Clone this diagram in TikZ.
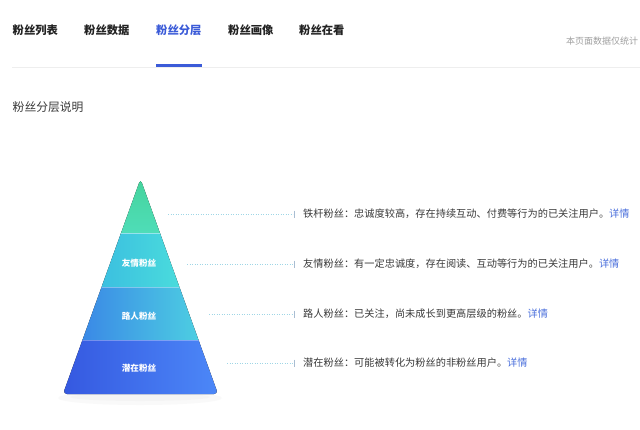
\documentclass[tikz,border=0pt]{standalone}
\usepackage{fontspec}
\newfontfamily\cjk{Noto Sans CJK SC}
\usetikzlibrary{calc}
\definecolor{tabblue}{HTML}{3B5BD8}
\definecolor{tabtext}{HTML}{222222}
\definecolor{desctext}{HTML}{3A3A3A}
\definecolor{linkblue}{HTML}{4A6FDC}
\definecolor{divider}{HTML}{EEEEEE}
\definecolor{dotcol}{HTML}{9FD6E6}
\definecolor{tickcol}{HTML}{A9BDD2}
\definecolor{gA}{HTML}{44D39B}
\definecolor{gB}{HTML}{4FDDB8}
\definecolor{cA}{HTML}{3BBFE0}
\definecolor{cB}{HTML}{4ADCDC}
\definecolor{bA}{HTML}{3A88E6}
\definecolor{bB}{HTML}{4DCFE2}
\definecolor{dA}{HTML}{3558E0}
\definecolor{dB}{HTML}{4C88F8}
\begin{document}
\begin{tikzpicture}[x=1pt,y=-1pt,
  tab/.style={font=\cjk\bfseries\fontsize{11.3}{13}\selectfont, text=tabtext, inner sep=0pt, anchor=west},
  bandlabel/.style={font=\cjk\bfseries\fontsize{8.6}{10}\selectfont, text=white, inner sep=0pt},
  desc/.style={font=\cjk\fontsize{10.2}{12}\selectfont, text=desctext, inner sep=0pt, anchor=west},
  dotline/.style={dotcol, line width=0.9pt, dash pattern=on 0.9pt off 1.6pt},
  tick/.style={tickcol, line width=0.8pt}]
\useasboundingbox (0,0) rectangle (640,429);
\fill[white] (0,0) rectangle (640,429);

% tabs
\node[tab] (t1) at (12.5,30) {粉丝列表};
\node[tab] (t2) at (84,30) {粉丝数据};
\node[tab, text=tabblue] (t3) at (156,30) {粉丝分层};
\node[tab] (t4) at (228,30) {粉丝画像};
\node[tab] (t5) at (299,30) {粉丝在看};
\node[font=\cjk\fontsize{9}{11}\selectfont, text=gray!75, inner sep=0pt, anchor=west] (note) at (566,41) {本页面数据仅统计};
\draw[divider, line width=1pt] (12,67) -- (640,67);
\fill[tabblue] (156,63.5) rectangle (202,66.5);

% section title
\node[font=\cjk\fontsize{11.8}{13}\selectfont, text=desctext, inner sep=0pt, anchor=west] (title) at (12.5,107) {粉丝分层说明};

% shadow
\fill[black!4, opacity=0.6] (140,398) ellipse [x radius=82, y radius=7];
\fill[black!5, opacity=0.6] (140,397) ellipse [x radius=70, y radius=4];

% pyramid
\begin{scope}
\clip[rounded corners=4pt] (140.5,394) -- (63,394) -- (140.5,179) -- (218,394) -- cycle;
\fill[top color=gA, bottom color=gB] (118,175) rectangle (163,233);
\fill[left color=cA, right color=cB] (100,233) rectangle (181,287);
\fill[left color=bA, right color=bB] (81,287) rectangle (200,340);
\fill[left color=dA, right color=dB] (62,340) rectangle (219,395);
\draw[white, opacity=0.45, line width=0.9pt] (60,233) -- (220,233);
\draw[white, opacity=0.35, line width=0.9pt] (60,287) -- (220,287);
\draw[white, opacity=0.3, line width=0.9pt] (60,340) -- (220,340);
\end{scope}

\node[bandlabel] (l2) at (139,263) {友情粉丝};
\node[bandlabel] (l3) at (139,316) {路人粉丝};
\node[bandlabel] (l4) at (139,368) {潜在粉丝};

% connectors
\coordinate (s1) at (168,214);
\coordinate (s2) at (187,264);
\coordinate (s3) at (209,314);
\coordinate (s4) at (227,363);
\coordinate (e1) at (293,214);
\coordinate (e2) at (293,264);
\coordinate (e3) at (293,314);
\coordinate (e4) at (293,363);
\foreach \i in {1,...,4}{
  \draw[dotline] (s\i) -- (e\i);
  \draw[tick] ($(e\i)+(1.5,-3.5)$) -- ($(e\i)+(1.5,3.5)$);
}

% descriptions
\node[desc] (d1) at (303,214) {铁杆粉丝：忠诚度较高，存在持续互动、付费等行为的已关注用户。\textcolor{linkblue}{详情}};
\node[desc] (d2) at (303,264) {友情粉丝：有一定忠诚度，存在阅读、互动等行为的已关注用户。\textcolor{linkblue}{详情}};
\node[desc] (d3) at (303,314) {路人粉丝：已关注，尚未成长到更高层级的粉丝。\textcolor{linkblue}{详情}};
\node[desc] (d4) at (303,363) {潜在粉丝：可能被转化为粉丝的非粉丝用户。\textcolor{linkblue}{详情}};
\end{tikzpicture}
\end{document}
